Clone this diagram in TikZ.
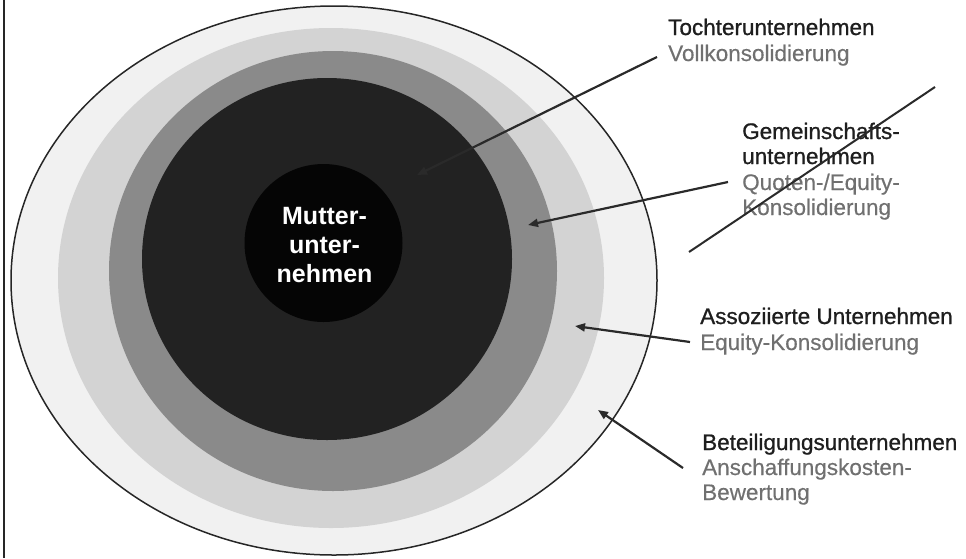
\documentclass[tikz,border=0pt]{standalone}
\usepackage{fontspec}
\setmainfont{Liberation Sans}
\newfontfamily\headfont[FakeBold=0.9]{Liberation Sans}
\newfontfamily\subfont[FakeBold=0.4]{Liberation Sans}
\usetikzlibrary{arrows.meta}
\definecolor{ringA}{HTML}{F1F1F1}
\definecolor{ringB}{HTML}{D3D3D3}
\definecolor{ringC}{HTML}{8A8A8A}
\definecolor{ringD}{HTML}{222222}
\definecolor{coreK}{HTML}{050505}
\definecolor{headtxt}{HTML}{1E1E1E}
\definecolor{subtxt}{HTML}{707070}
\definecolor{arrowcol}{HTML}{2A2A2A}
\tikzset{
  lbl/.style={anchor=base west, inner sep=0pt},
  headlbl/.style={lbl, text=headtxt, font=\headfont\fontsize{22.5}{26}\selectfont},
  sublbl/.style={lbl, text=subtxt, font=\subfont\fontsize{22.5}{26}\selectfont},
  pointer/.style={draw=arrowcol, line width=2.2pt, -{Triangle[length=10pt,width=8pt]}},
}
\begin{document}
\begin{tikzpicture}[x=1pt,y=-1pt]
\useasboundingbox (0,0) rectangle (966,558);
% left border
\draw[line width=1.8pt, black!85] (4,0) -- (4,558);
% rings
\fill[ringA] (334,280.5) ellipse [x radius=323, y radius=274.5];
\fill[ringB] (331,278) ellipse [x radius=273, y radius=250];
\fill[ringC] (333,271) ellipse [x radius=224, y radius=220];
\fill[ringD] (327,259) ellipse [x radius=185, y radius=181];
\draw[line width=1.5pt, black!85] (334,280.5) ellipse [x radius=323, y radius=274.5];
\node[circle, fill=coreK, minimum size=158pt, inner sep=0pt] (core) at (323.5,243) {};
\node[align=center, inner sep=0pt, text=white, font=\bfseries\fontsize{25}{29}\selectfont] (mu) at (324.5,245) {Mutter-\\unter-\\nehmen};
% labels
\node[headlbl] (t1a) at (668,35) {Tochterunternehmen};
\node[sublbl] (t1b) at (668,61) {Vollkonsolidierung};
\node[headlbl] (t2a) at (742,139) {Gemeinschafts-};
\node[headlbl] (t2b) at (742,164) {unternehmen};
\node[sublbl] (t2c) at (742,190) {Quoten-/Equity-};
\node[sublbl] (t2d) at (742,215) {Konsolidierung};
\node[headlbl] (t3a) at (700,324) {Assoziierte Unternehmen};
\node[sublbl] (t3b) at (700,350) {Equity-Konsolidierung};
\node[headlbl] (t4a) at (702,450) {Beteiligungsunternehmen};
\node[sublbl] (t4b) at (702,475) {Anschaffungskosten-};
\node[sublbl] (t4c) at (702,500) {Bewertung};
% arrow endpoints
\coordinate (a1s) at (657,57);  \coordinate (a1e) at (417,175);
\coordinate (a2s) at (728,182); \coordinate (a2e) at (528,225);
\coordinate (a3s) at (690,342); \coordinate (a3e) at (575,326);
\coordinate (a4s) at (683,468); \coordinate (a4e) at (598,410);
\coordinate (xs) at (689,252);  \coordinate (xe) at (935,87);
\draw[pointer] (a1s) -- (a1e);
\draw[pointer] (a2s) -- (a2e);
\draw[pointer] (a3s) -- (a3e);
\draw[pointer] (a4s) -- (a4e);
\draw[line width=2pt, arrowcol] (xs) -- (xe);
\end{tikzpicture}
\end{document}
